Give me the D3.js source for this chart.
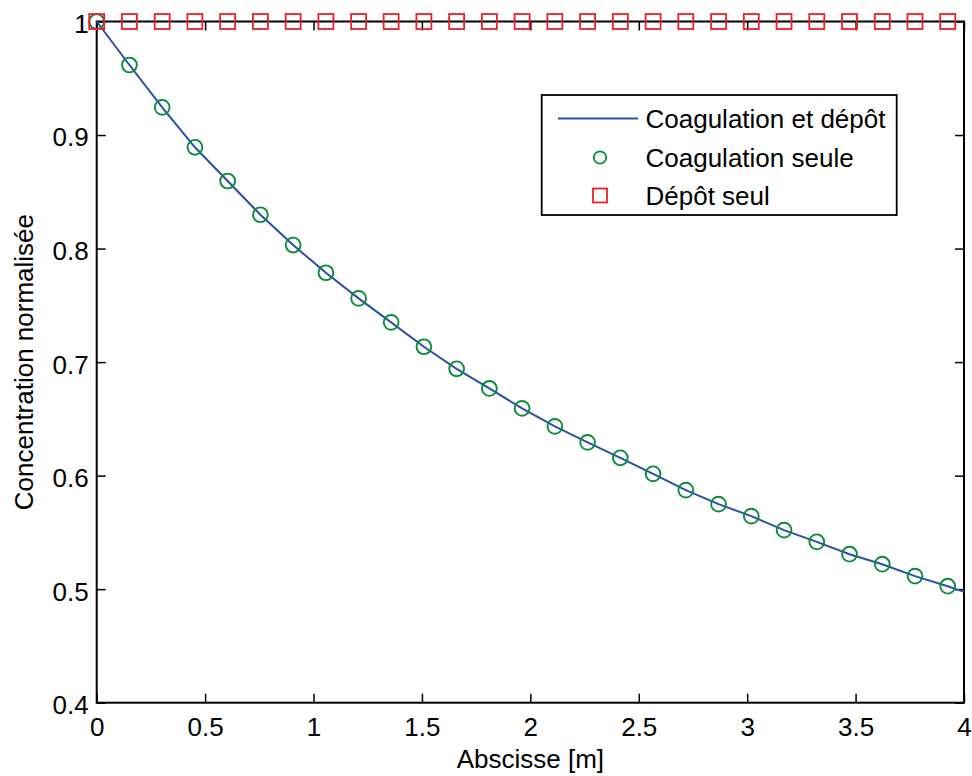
<!DOCTYPE html>
<html>
<head>
<meta charset="utf-8">
<script src="https://cdn.jsdelivr.net/npm/d3@7"></script>
<style>
  html, body { margin: 0; padding: 0; background: #fff; }
  svg { display: block; font-family: Arial, "Liberation Sans", Helvetica, sans-serif; }
</style>
</head>
<body>
<svg id="chart" width="972" height="776"></svg>
<script>
// ---- data ----
const markerX = [0, 0.151, 0.302, 0.453, 0.604, 0.755, 0.906, 1.057, 1.208, 1.358, 1.509, 1.660, 1.811,
                 1.962, 2.113, 2.264, 2.415, 2.566, 2.717, 2.868, 3.019, 3.170, 3.321, 3.472, 3.623, 3.774, 3.925];
const coagSeule = [1.0, 0.9617, 0.9244, 0.8892, 0.8595, 0.8298, 0.8031, 0.7787, 0.7561, 0.7350, 0.7135,
                   0.6941, 0.6768, 0.6592, 0.6434, 0.6293, 0.6157, 0.6016, 0.5872, 0.5749, 0.5643, 0.5520,
                   0.5417, 0.5308, 0.5220, 0.5115, 0.5026];
const depotSeul = [1, 1, 1, 1, 1, 1, 1, 1, 1, 1, 1, 1, 1, 1, 1, 1, 1, 1, 1, 1, 1, 1, 1, 1, 1, 1, 1];
const lineX = [0, 0.151, 0.302, 0.453, 0.604, 0.755, 0.906, 1.057, 1.208, 1.358, 1.509, 1.660, 1.811,
               1.962, 2.113, 2.264, 2.415, 2.566, 2.717, 2.868, 3.019, 3.170, 3.321, 3.472, 3.623, 3.774, 3.925, 4.0];
const coagEtDepot = [1.0, 0.9617, 0.9244, 0.8892, 0.8595, 0.8298, 0.8031, 0.7787, 0.7561, 0.7350, 0.7135,
                     0.6941, 0.6768, 0.6592, 0.6434, 0.6293, 0.6157, 0.6016, 0.5872, 0.5749, 0.5643, 0.5520,
                     0.5417, 0.5308, 0.5220, 0.5115, 0.5026, 0.4976];
const xTicks = [0, 0.5, 1, 1.5, 2, 2.5, 3, 3.5, 4];
const xTickLabels = ["0", "0.5", "1", "1.5", "2", "2.5", "3", "3.5", "4"];
const yTicks = [0.4, 0.5, 0.6, 0.7, 0.8, 0.9, 1];
const yTickLabels = ["0.4", "0.5", "0.6", "0.7", "0.8", "0.9", "1"];
const legendLabels = ["Coagulation et dépôt", "Coagulation seule", "Dépôt seul"];
const xTitle = "Abscisse [m]";
const yTitle = "Concentration normalisée";

// ---- layout ----
const L = 96.7, R = 964, T = 21.5, B = 702.7;
const FS = 26;
const colLine = "#2a4fa6", colCirc = "#0a8a3c", colSq = "#ee1f26";

const svg = d3.select("#chart");
const x = d3.scaleLinear().domain([0, 4]).range([L, R]);
const y = d3.scaleLinear().domain([0.4, 1]).range([B, T]);

// axes
const gx = svg.append("g").attr("transform", `translate(0,${B})`)
  .call(d3.axisBottom(x).tickValues(xTicks).tickFormat((d, i) => xTickLabels[i])
    .tickSizeInner(-9).tickSizeOuter(0).tickPadding(15));
const gy = svg.append("g").attr("transform", `translate(${L},0)`)
  .call(d3.axisLeft(y).tickValues(yTicks).tickFormat((d, i) => yTickLabels[i])
    .tickSizeInner(-9).tickSizeOuter(0).tickPadding(8));
const gxt = svg.append("g").attr("transform", `translate(0,${T})`)
  .call(d3.axisTop(x).tickValues(xTicks).tickFormat("").tickSizeInner(-9).tickSizeOuter(0));
const gyr = svg.append("g").attr("transform", `translate(${R},0)`)
  .call(d3.axisRight(y).tickValues(yTicks).tickFormat("").tickSizeInner(-9).tickSizeOuter(0));

[gx, gy, gxt, gyr].forEach(g => {
  g.select(".domain").remove();
  g.selectAll(".tick line").attr("stroke", "#000").attr("stroke-width", 1.5);
  g.selectAll(".tick text").attr("fill", "#000").style("font-size", FS + "px")
   .style("font-family", "Arial, 'Liberation Sans', Helvetica, sans-serif");
});
gy.selectAll(".tick text").attr("dy", "0.42em");

// box
svg.append("rect").attr("x", L).attr("y", T).attr("width", R - L).attr("height", B - T)
  .attr("fill", "none").attr("stroke", "#000").attr("stroke-width", 2);

// line
svg.append("path")
  .datum(lineX.map((d, i) => [d, coagEtDepot[i]]))
  .attr("fill", "none").attr("stroke", colLine).attr("stroke-width", 2)
  .attr("d", d3.line().x(d => x(d[0])).y(d => y(d[1])));

// circles
svg.append("g").selectAll("circle").data(markerX.map((d, i) => [d, coagSeule[i]])).join("circle")
  .attr("cx", d => x(d[0])).attr("cy", d => y(d[1])).attr("r", 7.4)
  .attr("fill", "none").attr("stroke", colCirc).attr("stroke-width", 1.9);

// squares
const S = 15;
svg.append("g").selectAll("rect").data(markerX.map((d, i) => [d, depotSeul[i]])).join("rect")
  .attr("x", d => x(d[0]) - S / 2).attr("y", d => y(d[1]) - S / 2)
  .attr("width", S).attr("height", S)
  .attr("fill", "none").attr("stroke", colSq).attr("stroke-width", 1.8);

// legend
const lg = svg.append("g");
lg.append("rect").attr("x", 541.7).attr("y", 95).attr("width", 355).attr("height", 120)
  .attr("fill", "#fff").attr("stroke", "#000").attr("stroke-width", 1.8);
const rowY = [118.5, 157.5, 195.5];
lg.append("line").attr("x1", 558).attr("x2", 638).attr("y1", rowY[0]).attr("y2", rowY[0])
  .attr("stroke", colLine).attr("stroke-width", 2);
lg.append("circle").attr("cx", 600).attr("cy", rowY[1]).attr("r", 6.2)
  .attr("fill", "none").attr("stroke", colCirc).attr("stroke-width", 1.8);
lg.append("rect").attr("x", 600 - 7).attr("y", rowY[2] - 7).attr("width", 14).attr("height", 14)
  .attr("fill", "none").attr("stroke", colSq).attr("stroke-width", 1.8);
lg.selectAll("text.leg").data(legendLabels).join("text").attr("class", "leg")
  .attr("x", 645.5).attr("y", (d, i) => rowY[i]).attr("dy", "0.36em")
  .style("font-size", FS + "px").attr("fill", "#000").text(d => d);

// titles
svg.append("text").attr("x", (L + R) / 2).attr("y", 768).attr("text-anchor", "middle")
  .style("font-size", FS + "px").attr("fill", "#000").text(xTitle);
svg.append("text").attr("transform", `translate(33,${(T + B) / 2}) rotate(-90)`)
  .attr("text-anchor", "middle").style("font-size", FS + "px").attr("fill", "#000").text(yTitle);
</script>
</body>
</html>
